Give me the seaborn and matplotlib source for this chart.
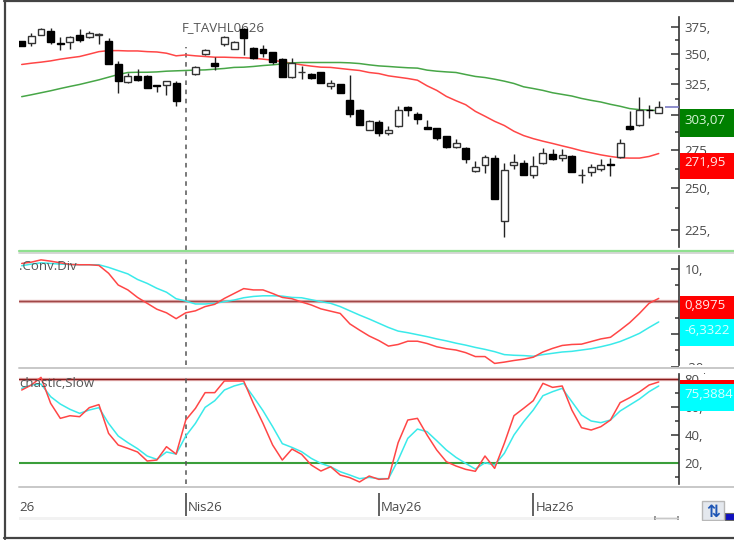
import numpy as np
import pandas as pd
import matplotlib
matplotlib.use("Agg")
import matplotlib.pyplot as plt
from matplotlib.patches import Rectangle
from matplotlib.lines import Line2D
from matplotlib.ticker import FixedLocator, FixedFormatter, NullFormatter
import seaborn as sns

nan = float("nan")

body_open = [361.5,359.7,367.6,371.3,359.7,361.2,366.9,365.7,367.6,361.5,341.5,326.5,331.2,331.2,324.0,324.0,325.7,nan,
             333.0,350.2,342.1,359.4,354.9,372.8,355.5,354.3,351.7,345.9,330.3,334.4,333.0,334.4,322.7,324.3,311.6,304.4,
             289.0,295.1,287.1,292.0,306.2,301.4,291.3,290.5,284.7,277.0,276.3,261.2,265.0,269.7,229.9,265.0,266.1,258.6,
             265.9,272.2,269.5,270.8,258.2,260.4,261.9,265.2,270.1,292.2,292.9,304.4,302.1]
body_close = [357.3,366.6,372.5,361.2,359.4,365.7,362.7,369.4,367.9,341.0,326.8,330.9,328.1,321.6,322.7,326.8,311.3,nan,
              338.7,353.4,340.1,365.1,360.6,364.8,346.2,351.4,343.3,330.6,342.1,334.7,329.8,325.4,325.7,317.4,300.9,293.2,
              296.1,286.9,289.3,304.1,304.1,297.1,290.3,283.3,277.0,279.8,269.0,263.2,270.4,243.3,261.5,267.0,258.6,264.1,
              273.3,268.8,271.3,260.4,258.4,263.2,265.0,264.8,279.8,290.0,304.4,304.1,306.5]
high = [361.5,368.8,374.0,374.0,365.1,366.3,372.8,371.3,369.4,364.2,343.6,333.6,337.0,332.0,324.0,327.3,327.3,nan,
        339.3,354.9,347.3,366.3,362.1,374.0,356.7,357.9,352.2,346.4,346.4,339.8,333.6,334.7,328.1,324.6,332.5,304.9,
        296.9,296.9,292.5,307.5,307.0,302.4,296.4,291.0,285.2,282.4,276.8,267.7,271.3,271.7,266.3,272.6,268.1,270.8,
        276.3,275.4,275.4,271.7,261.9,265.2,269.0,269.7,282.8,303.6,314.2,308.0,310.8]
low = [357.3,357.6,367.6,358.8,353.7,354.9,361.2,364.2,358.8,341.0,317.4,325.4,327.0,321.1,318.4,316.0,307.0,nan,
       332.5,349.6,336.4,357.6,354.3,349.3,345.6,347.9,341.5,330.6,329.5,329.0,328.6,325.4,320.5,317.4,298.9,292.7,
       289.0,285.2,285.9,291.5,299.9,293.9,290.0,281.9,276.1,276.5,266.3,260.1,259.3,242.9,221.1,261.9,258.6,256.5,
       265.2,268.1,267.2,260.1,253.3,257.6,260.6,257.6,269.7,289.0,292.0,298.2,301.9]

ma_fast = [341,342.1,343,344.1,345.6,346.8,347.9,350,352.2,353.1,353.1,352.8,352.8,352.2,351.9,350.8,348.5,349.3,
           348.5,347.9,347.3,347.3,347,346.8,346.4,345.6,344.7,343.3,342.1,340.7,339.6,338.7,338.5,337.6,336.7,335.9,
           334.2,333.3,331.4,330.3,329.2,327.8,323.2,319.5,314.7,311.3,308.2,303.1,299.4,295.6,292.5,288.3,285.2,283,
           281.2,279.6,277.9,276.3,274.5,273.1,271.7,270.6,269.7,269.5,269.5,270.6,272.6]
ma_slow = [314.5,316,317.6,319.2,321,322.7,324.3,326.2,328.1,330.3,332.5,334.2,334.4,334.4,334.7,335.3,335.6,335.9,
           336.2,336.4,337,337.6,338.5,338.7,339.3,340.1,340.7,341.5,342.4,342.7,342.7,342.7,342.7,342.7,342.4,341.8,
           340.7,339.8,339.3,338.7,338.2,337.9,336.2,335.3,334.7,334.2,332.5,330.9,330,328.6,327,325.1,322.4,321,
           319.5,317.6,316.3,315,313.1,311.6,310.3,308.5,307,305.2,304.4,304.1,303.6]

macd_line = [11.6,12.0,12.7,12.3,11.8,11.3,11.2,11.2,11.0,8.6,5.0,3.5,1.2,-0.6,-2.4,-3.5,-5.3,-3.5,
             -2.9,-1.6,-0.9,0.9,2.4,3.9,3.5,3.5,2.4,1.2,0.8,-0.2,-1.1,-2.3,-3.0,-3.7,-6.9,-8.8,
             -10.6,-12.0,-13.7,-13.2,-12.2,-12.2,-12.9,-13.9,-14.5,-14.9,-15.7,-16.9,-16.9,-19,-18.6,-18.1,-17.7,-17.1,
             -15.5,-14.4,-13.5,-13.2,-13.1,-12.3,-11.5,-11,-8.8,-6.5,-3.7,-0.6,0.9]
macd_signal = [10.9,11.4,11.8,11.6,11.4,11.3,11.2,11.2,11.2,10.4,9.4,8.4,6.7,5.5,4,2.8,0.8,0.1,
               -0.8,-0.8,-0.6,-0.1,0.4,1.1,1.5,1.7,1.7,1.6,1.2,1.1,0.5,-0.1,-0.6,-1.6,-2.9,-4.2,
               -5.4,-6.7,-8,-9.1,-9.6,-10.2,-10.8,-11.5,-12.1,-12.8,-13.4,-14.1,-14.7,-15.4,-16.3,-16.5,-16.6,-16.8,
               -16.3,-15.9,-15.5,-15.3,-14.9,-14.5,-13.9,-13.2,-12.3,-11.1,-9.8,-8,-6.3]

stoch_k = [72.3,75.9,81.4,62.7,51.9,53.8,53.1,59.6,61.8,41.1,32.7,30.3,27.7,21.2,21.9,31.5,26.2,50.7,
           59.1,70.4,70.4,78.8,78.8,78.8,62.7,48.3,32.7,21.9,29.8,26,18.3,14,17.1,11.1,9.2,6.1,
           10.4,8,8.5,34.4,50.7,51.9,39.9,29.1,20.7,17.6,15.2,13.8,24.8,15.9,33.9,53.8,59.1,64.6,
           77.1,74.2,75.2,57.9,45.2,43.5,45.9,50.7,63.2,66.8,70.9,75.9,78.1]
stoch_d = [73.5,75.9,76.6,67.5,62.2,58.4,55.5,57.9,59.6,48.3,39.2,34.4,30.1,24.8,22.4,27.7,26.2,39.2,
           48.3,59.8,64.6,72.3,75.2,77.1,67.5,57.4,45.9,33.7,31,27.9,23.1,19.5,17.1,13.5,11.1,8.5,
           9.4,8.5,8.5,21.9,37.5,44.2,42.3,35.8,29.1,23.8,19.5,15.4,20,18.3,26.7,39.9,49.5,57.9,
           68.2,71.1,73.5,63.9,54.3,50,48.8,50.7,57.2,61.5,65.8,71.1,75.2]

price_major = [375, 350, 325, 300, 275, 250, 225]
price_labels = ["375,", "350,", "325,", "", "275,", "250,", "225,"]
price_minor = [362.5, 337.5, 312.5, 287.5, 262.5, 237.5]
macd_major = [10, 0, -10, -20]
macd_labels = ["10,", "", "", "-20,"]
macd_minor = [5, -5, -15]
stoch_major = [80, 60, 40, 20]
stoch_labels = ["80,", "60,", "40,", "20,"]
stoch_minor = [70, 50, 30, 10]
date_ticks = [17, 37, 53]
date_labels = ["Nis26", "May26", "Haz26"]
cursor_index = 17

W, H = 734, 540
DARK = "#333333"
LABEL = "#4a4a4a"
RED = "#ff4646"
GREEN = "#47a647"
CYAN = "#3aeaea"

sns.set_theme(style="white")
plt.rcParams["font.family"] = ["Open Sans", "DejaVu Sans"]
plt.rcParams["font.size"] = 9.5

df = pd.DataFrame({"i": np.arange(len(ma_fast)), "ma_fast": ma_fast, "ma_slow": ma_slow,
                   "macd_line": macd_line, "macd_signal": macd_signal,
                   "stoch_k": stoch_k, "stoch_d": stoch_d})

fig = plt.figure(figsize=(W / 100, H / 100), dpi=100, facecolor="white")


def panel(top, bottom):
    ax = fig.add_axes([19 / W, 1 - bottom / H, 660 / W, (bottom - top) / H])
    ax.patch.set_alpha(0)
    ax.set_xlim(-0.28, 68.1)
    for s in ("left", "top", "bottom"):
        ax.spines[s].set_visible(False)
    ax.spines["right"].set_color(DARK)
    ax.spines["right"].set_linewidth(1.2)
    ax.set_xticks([])
    ax.set_xlabel("")
    return ax


def y_axis(ax, major, minor, labels, bounds):
    ax.yaxis.tick_right()
    ax.yaxis.set_major_locator(FixedLocator(major))
    ax.yaxis.set_major_formatter(FixedFormatter(labels))
    ax.yaxis.set_minor_locator(FixedLocator(minor))
    ax.yaxis.set_minor_formatter(NullFormatter())
    ax.tick_params(axis="y", which="major", direction="in", length=6, width=1.1,
                   color=DARK, pad=4, labelsize=9.5, labelcolor=LABEL, right=True, left=False)
    ax.tick_params(axis="y", which="minor", direction="in", length=3, width=1.1,
                   color=DARK, right=True, left=False)
    ax.spines["right"].set_bounds(*bounds)
    ax.set_ylabel("")


def line(ax, col, color, lw=1.1):
    sns.lineplot(data=df, x="i", y=col, color=color, lw=lw, ax=ax, legend=False,
                 estimator=None, errorbar=None, zorder=3)
    ax.set_xlabel("")
    ax.set_ylabel("")


# price panel
ax_p = panel(3, 250)
ax_p.set_yscale("log")
ax_p.set_ylim(213.9, 398)
line(ax_p, "ma_fast", RED)
line(ax_p, "ma_slow", GREEN)
ax_p.set_xticks([])
y_axis(ax_p, price_major, price_minor, price_labels, (215.6, 384.2))
x = np.arange(len(body_open))
o, c, hi, lo = map(np.array, (body_open, body_close, high, low))
ax_p.vlines(x, lo, hi, color="#222222", lw=1.0, zorder=4)
up = c >= o
bot = np.minimum(o, c)
hgt = np.abs(c - o)
ax_p.bar(x[up], hgt[up], bottom=bot[up], width=0.72, facecolor="white", edgecolor="#333333", lw=1.0, zorder=5)
ax_p.bar(x[~up], hgt[~up], bottom=bot[~up], width=0.72, facecolor="black", edgecolor="black", lw=1.0, zorder=5)
ax_p.hlines(c[-1], 66.6, 68.1, color="#7a7ac4", lw=1.2, zorder=3)
ax_p.vlines(cursor_index, 213.9, 356.7, color="#555555", lw=1.1, linestyles=(0, (3, 3)), zorder=2)
ax_p.text(16.58, 1.0 - 25 / 247, "F_TAVHL0626", transform=ax_p.get_xaxis_transform(), fontsize=9.5,
          color="#555555", va="center", ha="left", zorder=1)

# MACD panel
ax_m = panel(253, 368)
ax_m.set_ylim(-20.4, 14.8)
ax_m.axhline(0, color="#e0b0b0", lw=2.4, zorder=1)
ax_m.axhline(0, color="#a04848", lw=1.0, zorder=1)
line(ax_m, "macd_signal", CYAN)
line(ax_m, "macd_line", RED)
ax_m.set_xticks([])
y_axis(ax_m, macd_major, macd_minor, macd_labels, (-19.5, 13.9))
ax_m.vlines(cursor_index, -19.5, 13.9, color="#555555", lw=1.1, linestyles=(0, (3, 3)), zorder=2)
ax_m.text(-0.28, 10.8, ".Conv.Div", fontsize=9.5, color="#555555", va="center", ha="left", zorder=4)

# stochastic panel
ax_s = panel(370, 487)
ax_s.set_ylim(2.5, 86.7)
ax_s.axhline(80, color="#e8b8b8", lw=2.4, zorder=1)
ax_s.axhline(80, color="#8a1c1c", lw=1.0, zorder=1)
ax_s.axhline(20, color="#3a9e3a", lw=1.5, zorder=1)
line(ax_s, "stoch_d", CYAN)
line(ax_s, "stoch_k", RED)
ax_s.set_xticks([])
y_axis(ax_s, stoch_major, stoch_minor, stoch_labels, (4.6, 83.8))
ax_s.vlines(cursor_index, 4.6, 82, color="#555555", lw=1.1, linestyles=(0, (3, 3)), zorder=2)
ax_s.text(-0.28, 77.0, "chastic,Slow", fontsize=9.5, color="#555555", va="center", ha="left", zorder=4)

# date strip
ax_d = panel(487, 520)
ax_d.set_ylim(0, 1)
ax_d.spines["right"].set_visible(False)
ax_d.set_yticks([])
ax_d.vlines(date_ticks, 0.12, 0.82, color="#555555", lw=1.3)
for t, s in zip(date_ticks, date_labels):
    ax_d.text(t + 0.22, 0.38, s, fontsize=9.5, color=LABEL, va="center", ha="left")
ax_d.text(-0.28, 0.38, "26", fontsize=9.5, color=LABEL, va="center", ha="left")


def fx(px):
    return px / W


def fy(px):
    return 1 - px / H


def box(x0, y0, x1, y1, color, z=5, ec="none", lw=0):
    fig.add_artist(Rectangle((fx(x0), fy(y1)), (x1 - x0) / W, (y1 - y0) / H, transform=fig.transFigure,
                             facecolor=color, edgecolor=ec, linewidth=lw, zorder=z))


def hline(x0, x1, y, color, lw):
    fig.add_artist(Line2D([fx(x0), fx(x1)], [fy(y), fy(y)], transform=fig.transFigure, color=color, lw=lw, zorder=6))


# clip the half-hidden lower MACD label
box(679.6, 365, 734, 373, "white", z=5)

# separators
hline(19, 734, 252.5, "#d0d0d0", 1.2)
hline(19, 734, 250.8, "#90e090", 1.6)
hline(19, 734, 368.3, "#c8c8c8", 1.4)
hline(19, 734, 487.3, "#c8c8c8", 1.4)

# value tags
tags = [(109.3, 136.7, "#008000", "303,07", "#d8f4d8", 120.5),
        (152.7, 179.3, "#ff0000", "271,95", "#ffe8e8", 163.0),
        (295.7, 319.3, "#ff0000", "0,8975", "#ffe8e8", 305.5),
        (319.3, 346.0, "#00ffff", "-6,3322", "#d8ffff", 330.0),
        (380.0, 385.0, "#ff0000", "", "white", 382.0),
        (384.0, 410.7, "#00ffff", "75,3884", "#d8ffff", 394.5)]
for y0, y1, col, txt, tc, ty in tags:
    box(679.6, y0, 734, y1, col)
    if txt:
        fig.text(fx(684.5), fy(ty), txt, color=tc, fontsize=9.5, va="center", ha="left", zorder=7)

# faint strip beneath the dates, with the scroller at its right end
box(19, 516.5, 678, 519.5, "#f2f2f2", z=2)
hline(655, 678, 518, "#c8c8c8", 1.0)
box(654, 516, 656, 520, "#999999", z=3)
box(677, 516, 679, 520, "#999999", z=3)

# toolbar buttons, cropped by the window edge
box(702, 501, 724, 520, "#e4e8ee", z=3, ec="#b8b8b8", lw=1.0)
fig.text(fx(713), fy(511.5), "\u21c5", color="#1d55b5", fontsize=12, fontweight="bold",
         family="DejaVu Sans", va="center", ha="center", zorder=7)
box(725, 513, 734, 520, "#1010c0", z=3, ec="#666666", lw=0.8)

# white margin under the window edge, outer frame
box(0, 520.5, 734, 538, "white", z=6)
hline(4, 734, 0.8, "#444444", 1.6)
hline(4, 734, 538.2, "#444444", 1.6)
fig.add_artist(Line2D([fx(4.8), fx(4.8)], [fy(0.5), fy(538.5)], transform=fig.transFigure, color="#444444", lw=1.6, zorder=6))

fig.savefig("out.png", dpi=100, facecolor="white")
